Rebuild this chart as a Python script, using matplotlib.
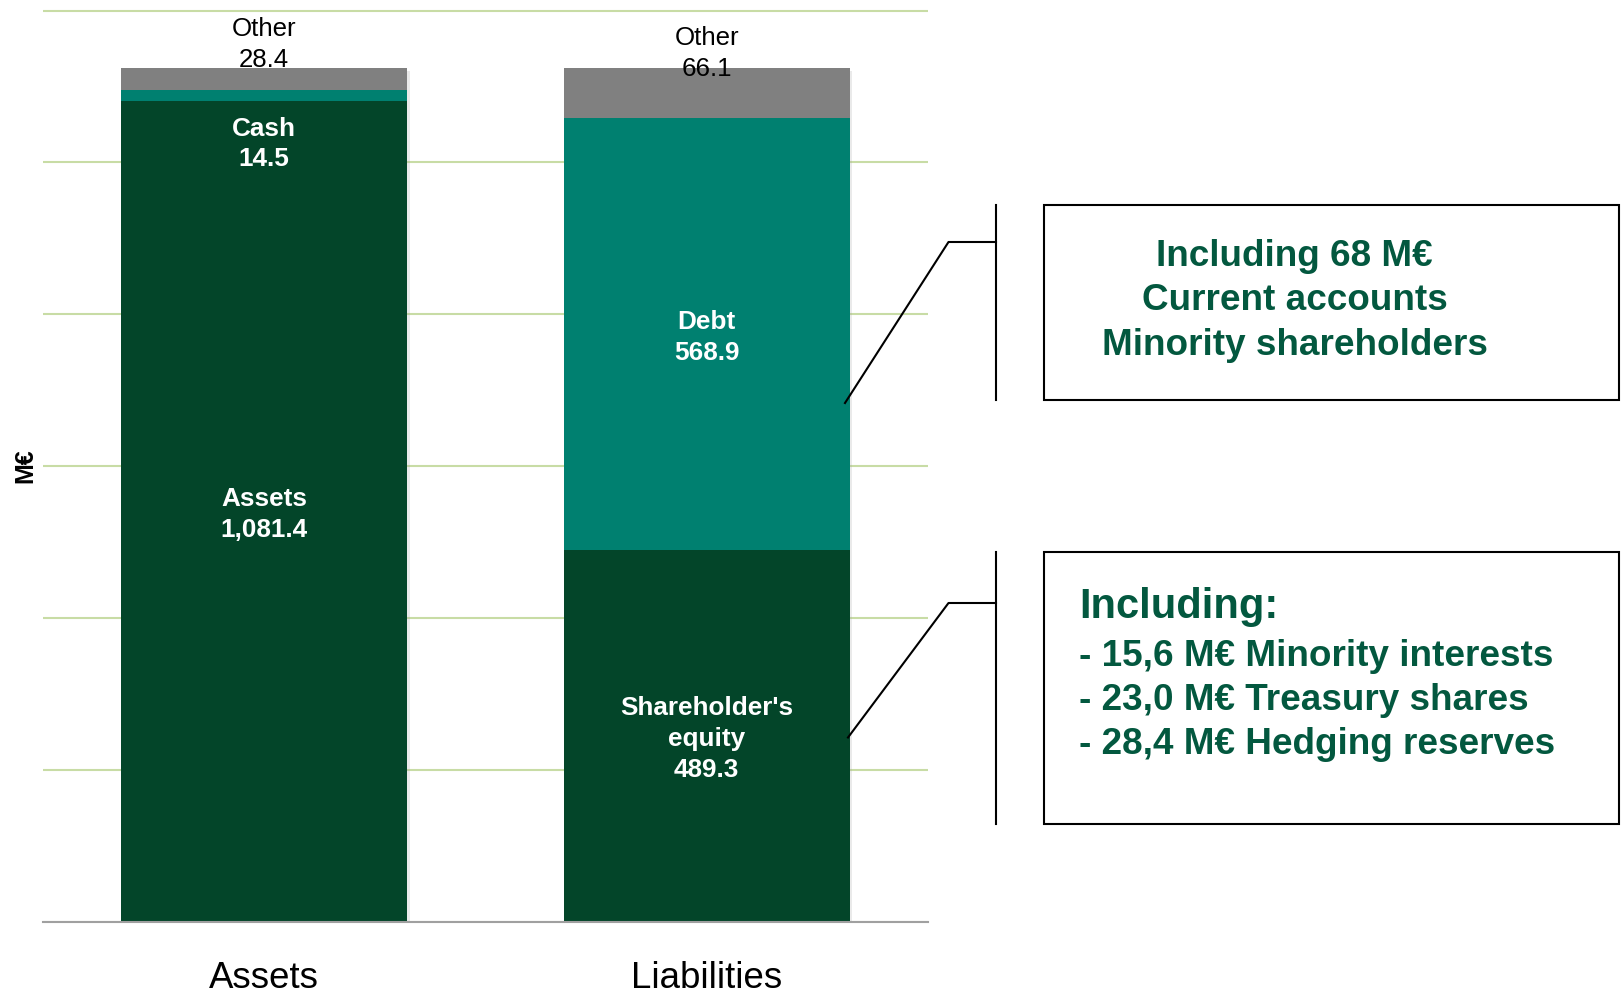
import numpy as np
import matplotlib.pyplot as plt
from matplotlib import patheffects as pe
from matplotlib.patches import Rectangle

plt.rcParams['font.family'] = ['Liberation Sans', 'DejaVu Sans']

# balance sheet, segments stacked bottom -> top
categories = ['Assets', 'Liabilities']
seg_names = [['Assets', 'Cash', 'Other'],
             ["Shareholder's\nequity", 'Debt', 'Other']]
assets_vals = [1081.4, 14.5, 28.4]
liab_vals = [489.3, 568.9, 66.1]
seg_colors = ['#034529', '#008070', '#808080']
grid_vals = np.arange(0, 1201, 200)

box1_lines = ['Including 68 M€', 'Current accounts', 'Minority shareholders']
box2_title = 'Including:'
box2_lines = ['- 15,6 M€ Minority interests',
              '- 23,0 M€ Treasury shares',
              '- 28,4 M€ Hedging reserves']
text_green = '#03583f'

W, H = 1622, 994
fig = plt.figure(figsize=(W / 100, H / 100), dpi=100)
ax = fig.add_axes([43 / W, 1 - 922 / H, 885 / W, 913 / H])

x = np.arange(len(categories))
width = 0.646
vals = np.array([assets_vals, liab_vals])
totals = vals.sum(axis=1)

# faint shadow behind each full stack
ax.bar(x, totals, width, color='white', zorder=1.5,
       path_effects=[pe.SimplePatchShadow(offset=(2, -2), shadow_rgbFace='#a0a0a0', alpha=0.22)])

dy = -2.2  # small downward nudge for labels (points)
bottoms = np.zeros(len(categories))
for j in range(vals.shape[1]):
    ax.bar(x, vals[:, j], width, bottom=bottoms, color=seg_colors[j], zorder=2)
    for i in range(len(categories)):
        name = seg_names[i][j]
        v = vals[i, j]
        if name == 'Other':
            off = 19 if i == 0 else 12.6
            ax.annotate(f'{name}\n{v:,.1f}', (x[i], totals[i]), xytext=(0, off + dy),
                        textcoords='offset points', ha='center', va='center',
                        fontsize=18.6, color='black', linespacing=1.4, zorder=5)
        elif name == 'Cash':
            ax.annotate(f'{name}\n{v:,.1f}', (x[i], bottoms[i]), xytext=(0, -29 + dy),
                        textcoords='offset points', ha='center', va='center',
                        fontsize=18.8, fontweight='bold', color='white',
                        linespacing=1.36, zorder=5)
        else:
            ax.annotate(f'{name}\n{v:,.1f}', (x[i], bottoms[i] + v / 2), xytext=(0, dy),
                        textcoords='offset points', ha='center', va='center',
                        fontsize=18.8, fontweight='bold', color='white',
                        linespacing=1.36, zorder=5)
    bottoms += vals[:, j]

ax.set_xlim(-0.5, 1.5)
ax.set_ylim(0, 1202)
ax.set_yticks(grid_vals)
ax.yaxis.grid(True, color='#c8dca5', lw=1.5)
ax.set_axisbelow(True)
ax.tick_params(axis='y', left=False, labelleft=False)
ax.set_xticks(x, categories, fontsize=26.4)
ax.tick_params(axis='x', length=0, pad=28)
for s in ['top', 'left', 'right']:
    ax.spines[s].set_visible(False)
ax.spines['bottom'].set_color('#a0a0a0')
ax.spines['bottom'].set_linewidth(1.5)
ax.spines['bottom'].set_zorder(3)

fig.text(25 / W, 1 - 466 / H, 'M€', rotation=90, fontsize=18, fontweight='bold',
         ha='center', va='center')

# callout boxes, drawn in pixel space
ov = fig.add_axes([0, 0, 1, 1])
ov.set_xlim(0, W)
ov.set_ylim(H, 0)
ov.axis('off')

ov.add_patch(Rectangle((1044, 205), 575, 195, fill=False, ec='black', lw=1.5))
ov.add_patch(Rectangle((1044, 552), 575, 272, fill=False, ec='black', lw=1.5))
ov.plot([996, 996], [205, 400], color='black', lw=1.5)
ov.plot([845, 948.5, 996], [403, 242, 242], color='black', lw=1.5)
ov.plot([996, 996], [552, 824], color='black', lw=1.5)
ov.plot([848, 948.5, 996], [737.5, 603, 603], color='black', lw=1.5)

for k, line in enumerate(box1_lines):
    ov.text(1294.5, 256.5 + 44.3 * k, line, ha='center', va='center',
            fontsize=26.6, fontweight='bold', color=text_green)

ov.text(1079, 607, box2_title, ha='left', va='center',
        fontsize=30, fontweight='bold', color=text_green)
for k, line in enumerate(box2_lines):
    ov.text(1079, 656 + 44.3 * k, line, ha='left', va='center',
            fontsize=26.6, fontweight='bold', color=text_green)

fig.savefig('out.png', dpi=100)
